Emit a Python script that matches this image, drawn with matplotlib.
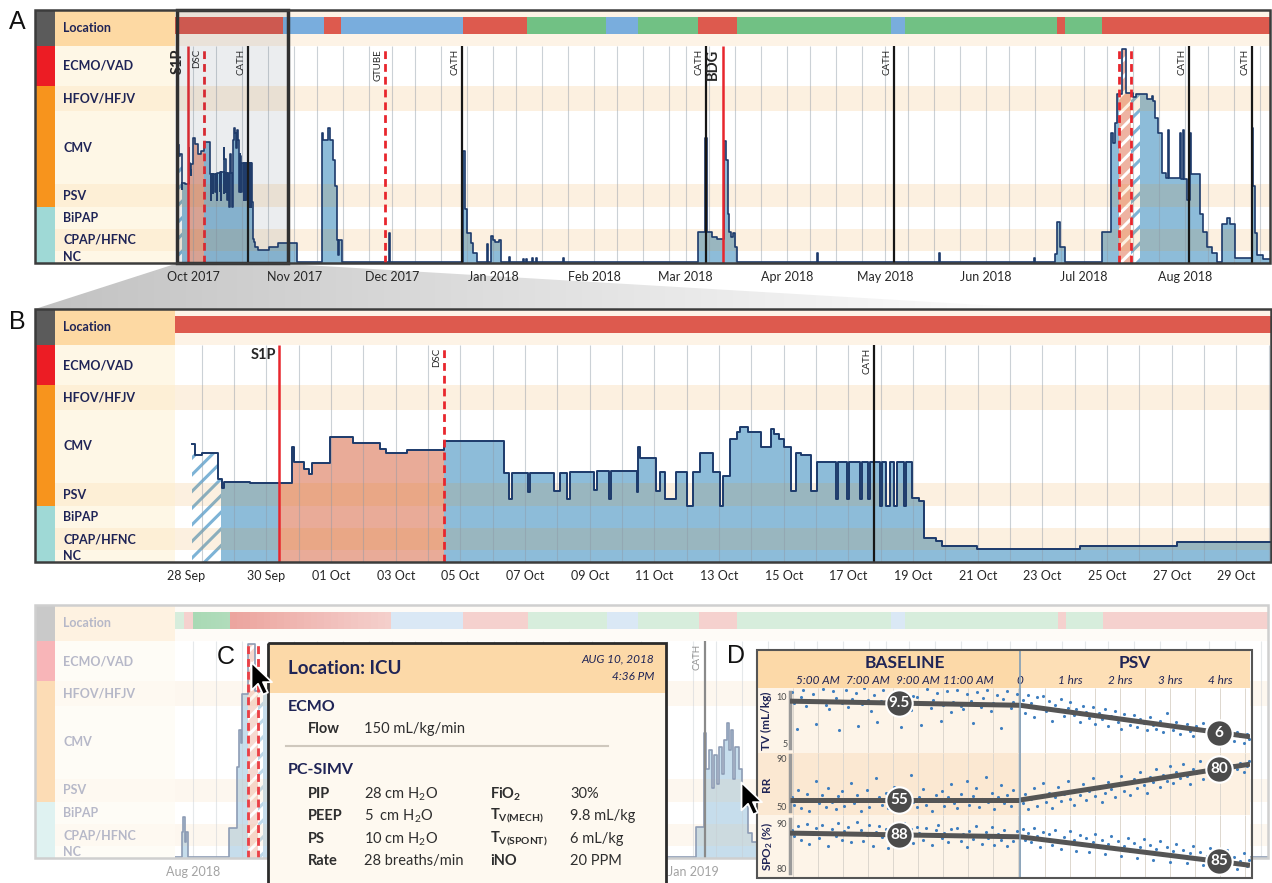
#!/usr/bin/env python3
import datetime as dt
import numpy as np
import matplotlib
matplotlib.use("Agg")
import matplotlib.pyplot as plt
import matplotlib.dates as mdates
from matplotlib.patches import Rectangle, Polygon
from matplotlib.lines import Line2D
from matplotlib.path import Path
from matplotlib.colors import LinearSegmentedColormap

W, H = 1272, 883
plt.rcParams['font.family'] = ['Lato', 'DejaVu Sans']
plt.rcParams['mathtext.fontset'] = 'custom'
plt.rcParams['mathtext.rm'] = 'Lato'
plt.rcParams['mathtext.it'] = 'Lato:italic'
plt.rcParams['mathtext.bf'] = 'Lato:bold'
plt.rcParams['hatch.linewidth'] = 2.2

NAVY = '#1f2456'
LINE = '#1c3a6b'
RED = '#e8262d'
LOC_COLORS = {'icu': '#dd5a4e', 'stepdown': '#79addd', 'home': '#71c184'}
PHASE_STYLE = {
    'blue': dict(color='#8dbcd9'),
    'salmon': dict(color='#e9ab98'),
    'hatch_blue': dict(facecolor='white', edgecolor='#7db3d6', hatch='//'),
    'hatch_salmon': dict(facecolor='#eeb3a2', edgecolor='white', hatch='//'),
}

# ---- respiratory support rows (bottom to top) ----
row_names = ['NC', 'CPAP/HFNC', 'BiPAP', 'PSV', 'CMV', 'HFOV/HFJV', 'ECMO/VAD', 'Location']
row_score_edges = [0, 1, 2, 3, 4, 7, 8, 10, 12]
row_px_edges = [0, 12, 34, 56, 79, 152, 177, 217, 253]

# ---- panel B: first month after admission (days after 1 Oct 2017, support level) ----
a_base = dt.datetime(2017, 10, 1)
b_span = (-4.83, 29.1)
b_steps = [
    (-4.3, 5.6), (-4.2, 5.15), (-4.0, 5.23), (-3.5, 4.16), (-3.37, 3.8), (-3.3, 4.04), (-2.5, 4.0),
    (-1.2, 5.5), (-1.15, 4.86), (-0.83, 4.57), (-0.67, 4.37), (-0.58, 4.82), (-0.03, 5.9), (0.68, 5.64),
    (1.5, 5.4), (1.7, 5.23), (2.35, 5.35), (3.5, 5.73), (5.35, 4.4), (5.5, 3.3), (5.6, 4.4), (6.1, 3.6),
    (6.15, 4.4), (6.9, 3.67), (7.09, 4.4), (7.3, 3.3), (7.38, 4.45), (8.14, 3.7), (8.23, 4.5), (8.6, 3.3),
    (8.66, 4.5), (9.47, 3.6), (9.5, 5.5), (9.56, 5.03), (10.06, 3.67), (10.18, 4.45), (10.33, 3.3),
    (10.67, 4.45), (11.01, 3.0), (11.2, 4.45), (11.42, 5.25), (11.8, 4.45), (12.04, 3.0), (12.13, 4.3),
    (12.34, 5.8), (12.56, 6.1), (12.65, 6.3), (12.9, 6.1), (13.3, 5.5), (13.6, 6.2), (13.7, 6.0),
    (13.86, 5.8), (14.0, 5.5), (14.23, 3.67), (14.38, 5.25), (14.54, 5.15), (14.85, 3.67), (15.03, 4.86),
    (15.62, 3.3), (15.68, 4.86), (15.97, 3.3), (16.03, 4.86), (16.37, 3.3), (16.42, 4.86), (16.6, 3.3),
    (16.66, 4.86), (16.98, 3.0), (17.04, 4.86), (17.17, 3.0), (17.27, 4.86), (17.42, 3.0), (17.5, 4.86),
    (17.73, 3.0), (17.79, 4.86), (17.98, 3.35), (18.17, 3.2), (18.35, 1.55), (18.72, 1.4), (18.9, 1.18),
    (19.99, 1.05), (23.17, 1.18), (26.15, 1.36),
]
b_phases = [(-4.3, -3.4, 'hatch_blue'), (-3.4, -1.6, 'blue'), (-1.6, 3.5, 'salmon'), (3.5, 29.1, 'blue')]
b_events = [(-1.6, 'S1P', 'major'), (3.5, 'DSC', 'minor'), (16.8, 'CATH', 'cath')]
b_loc = [(-4.83, 'icu')]
b_tick_days = [-4.5, -2.0, 0, 2, 4, 6, 8, 10, 12, 14, 16, 18, 20, 22, 24, 26, 28]
b_tick_labels = ['28 Sep', '30 Sep', '01 Oct', '03 Oct', '05 Oct', '07 Oct', '09 Oct', '11 Oct', '13 Oct',
                 '15 Oct', '17 Oct', '19 Oct', '21 Oct', '23 Oct', '25 Oct', '27 Oct', '29 Oct']

# ---- panel A: whole stay ----
a_span = (-5.5, 330)
a_steps_late = [
    (31.8, 0.08), (39.5, 6.1), (39.7, 5.8), (41.4, 6.3), (42.0, 5.8), (43.0, 5.0), (43.5, 3.9), (44.0, 1.5),
    (44.3, 0.67), (44.8, 1.5), (45.6, 0.08), (60.1, 1.8), (60.4, 0.08), (82.7, 5.36), (83.4, 2.9), (84.0, 1.8),
    (85.2, 1.36), (85.8, 0.8), (87.0, 0.08), (90.1, 1.3), (90.5, 0.08), (91.3, 1.7), (92.0, 1.5), (92.6, 1.4),
    (93.8, 1.5), (94.3, 0.08), (96.8, 0.5), (97.1, 0.08), (101.0, 0.35), (101.3, 0.08), (101.9, 0.35),
    (102.2, 0.08), (104.0, 0.4), (104.3, 0.08), (105.0, 0.4), (105.3, 0.08), (113.4, 0.4), (113.7, 0.08),
    (154.8, 1.85), (157.0, 5.9), (157.4, 1.85), (159.0, 1.65), (160.6, 1.55), (162.7, 5.77), (163.2, 5.0),
    (163.8, 2.7), (164.3, 1.85), (165.0, 1.65), (165.5, 1.8), (166.0, 1.2), (166.7, 0.08), (191.2, 0.8),
    (191.5, 0.08), (228.6, 0.8), (228.9, 0.08), (257.7, 0.4), (258.0, 0.08), (264.2, 0.75), (264.8, 2.3),
    (265.7, 1.2), (267.2, 0.08), (278.6, 1.85), (281.3, 6.1), (282.0, 5.7), (282.6, 6.5), (283.2, 7.7),
    (284.7, 9.85), (286.0, 7.72), (288.0, 7.55), (289.0, 7.7), (292.4, 7.5), (293.9, 7.6), (294.3, 7.4),
    (294.8, 6.7), (295.7, 6.1), (297.0, 4.45), (298.0, 4.25), (298.9, 6.2), (299.2, 4.25), (302.5, 6.1),
    (302.8, 4.2), (303.4, 6.2), (303.7, 4.2), (304.6, 3.3), (305.5, 6.1), (305.9, 4.4), (308.6, 2.7),
    (309.5, 1.85), (310.8, 1.2), (312.3, 0.8), (313.8, 0.08), (315.3, 2.25), (316.9, 2.5), (317.8, 2.25),
    (319.3, 0.42), (324.5, 6.3), (324.8, 3.9), (325.3, 1.8), (326.0, 0.7), (328.0, 0.3),
]
a_steps = b_steps + a_steps_late
a_phases = b_phases[:3] + [(3.5, 283.8, 'blue'), (283.8, 287.5, 'hatch_salmon'),
                           (287.5, 290.2, 'hatch_blue'), (290.2, 330, 'blue')]
a_events = [(-1.6, 'S1P', 'major'), (3.5, 'DSC', 'minor'), (16.8, 'CATH', 'cath'), (58.8, 'GTUBE', 'minor'),
            (82.4, 'CATH', 'cath'), (157.2, 'CATH', 'cath'), (162.4, 'BDG', 'major'), (214.8, 'CATH', 'cath'),
            (283.8, '', 'minor'), (287.5, '', 'minor'), (305.2, 'CATH', 'cath'), (324.5, 'CATH', 'cath')]
a_loc = [(-5.5, 'icu'), (27.6, 'stepdown'), (40.1, 'icu'), (45.4, 'stepdown'), (82.7, 'icu'), (102.4, 'home'),
         (126.6, 'stepdown'), (136.4, 'home'), (154.8, 'icu'), (166.7, 'home'), (213.9, 'stepdown'),
         (218.2, 'home'), (264.8, 'icu'), (267.2, 'home'), (278.6, 'icu')]

# ---- panel C: later view (days after 1 Aug 2018) ----
c_base = dt.datetime(2018, 8, 1)
c_span = (-5.5, 329)
c_steps = [(-5.5, 0.08), (-3.4, 1.64), (-2.9, 2.3), (-2.5, 1.2), (-2.1, 1.64), (-1.5, 0.08), (11.0, 1.8),
           (13.5, 4.5), (14.1, 6.0), (14.6, 5.5), (15.0, 7.5), (16.9, 9.85), (19.0, 7.6), (24.0, 0.08),
           (153.8, 1.85), (156.3, 5.9), (157.0, 4.4), (158.0, 5.2), (158.8, 3.6), (159.5, 5.0), (160.3, 3.8),
           (161.0, 5.3), (161.8, 4.2), (162.5, 5.6), (163.3, 6.3), (164.0, 5.2), (164.6, 6.0), (165.3, 4.0),
           (166.0, 5.3), (167.0, 4.4), (168.0, 3.6), (169.0, 2.8), (170.0, 1.6), (171.0, 1.2), (175.0, 0.08)]
c_phases = [(-5.5, 16.9, 'blue'), (16.9, 19.9, 'hatch_salmon'), (19.9, 21.5, 'hatch_blue'), (21.5, 329, 'blue')]
c_events = [(16.9, '', 'minor'), (19.9, '', 'minor'), (156.6, 'CATH', 'cath')]
c_loc = [(-5.5, 'home'), (-2.8, 'icu'), (0, 'home'), (11.3, 'icu'), (60.7, 'stepdown'), (82.7, 'icu'),
         (102.4, 'home'), (126.6, 'stepdown'), (136.1, 'home'), (154.8, 'icu'), (166.4, 'home'),
         (213.6, 'stepdown'), (217.9, 'home'), (264.8, 'icu'), (267.2, 'home'), (278.6, 'icu')]
c_focus = (0, 60.7)           # stretch of the location bar highlighted around the hovered point
c_tick_months = [dt.datetime(2018, 8, 1), dt.datetime(2019, 1, 1)]
c_hover = [(17.8, 8.95), (167.6, 3.87)]

# ---- tooltip ----
tip_title = 'Location: ICU'
tip_when = ['AUG 10, 2018', '4:36 PM']
tip_left = ['PIP', 'PEEP', 'PS', 'Rate']
tip_left_vals = ['28 cm H$_2$O', '5  cm H$_2$O', '10 cm H$_2$O', '28 breaths/min']
tip_right = [r'FiO$_\mathbf{2}$', r'T$_{\mathbf{V(MECH)}}$', r'T$_{\mathbf{V(SPONT)}}$', 'iNO']
tip_right_vals = ['30%', '9.8 mL/kg', '6 mL/kg', '20 PPM']

# ---- panel D: baseline (clock hours) vs PSV trial (hours) ----
d_base_ticks = [5, 7, 9, 11]
d_base_ticklabels = ['5:00 AM', '7:00 AM', '9:00 AM', '11:00 AM']
d_psv_ticks = [0, 1, 2, 3, 4]
d_psv_ticklabels = ['0', '1 hrs', '2 hrs', '3 hrs', '4 hrs']
tv_base = [(3.95, 10.4), (4.05, 9.3), (4.15, 6.6), (4.3, 9.9), (4.4, 10.6), (4.5, 9.0), (4.65, 9.6), (4.8, 10.2),
           (4.9, 7.1), (5.05, 9.4), (5.2, 10.7), (5.3, 9.1), (5.45, 8.6), (5.6, 10.5), (5.7, 9.8), (5.85, 6.4),
           (5.95, 9.3), (6.1, 10.6), (6.2, 8.9), (6.35, 9.7), (6.5, 10.3), (6.6, 6.9), (6.75, 9.2), (6.85, 10.8),
           (7.0, 9.6), (7.1, 8.4), (7.25, 10.1), (7.35, 7.3), (7.5, 9.5), (7.6, 10.6), (7.75, 9.0), (7.9, 8.7),
           (8.0, 10.2), (8.15, 9.7), (8.3, 6.8), (8.4, 10.4), (8.55, 9.3), (8.7, 8.5), (8.8, 10.0), (8.95, 9.9),
           (9.1, 7.0), (9.2, 9.2), (9.35, 10.7), (9.5, 8.8), (9.6, 9.6), (9.75, 10.3), (9.9, 7.4), (10.0, 9.1),
           (10.15, 10.5), (10.3, 8.3), (10.4, 9.4), (10.55, 10.6), (10.7, 9.0), (10.8, 8.6), (10.95, 10.2),
           (11.1, 9.5), (11.2, 7.2), (11.35, 10.4), (11.5, 8.9), (11.6, 9.8), (11.75, 10.6), (11.9, 8.4),
           (12.0, 9.3), (12.15, 10.1), (12.3, 6.7), (12.4, 9.7), (12.55, 10.5), (12.7, 8.8), (12.8, 9.4),
           (12.95, 10.2)]
tv_psv = [(0.05, 9.6), (0.1, 8.2), (0.15, 10.1), (0.22, 9.3), (0.28, 7.8), (0.33, 9.9), (0.4, 8.9), (0.45, 10.0),
          (0.52, 8.4), (0.58, 9.5), (0.63, 7.4), (0.7, 9.1), (0.76, 8.6), (0.82, 9.7), (0.88, 7.9), (0.95, 8.8),
          (1.0, 9.4), (1.07, 8.0), (1.12, 8.7), (1.2, 7.3), (1.25, 9.0), (1.32, 8.3), (1.38, 7.7), (1.45, 8.9),
          (1.5, 7.1), (1.57, 8.2), (1.63, 7.6), (1.7, 8.6), (1.76, 6.9), (1.82, 7.9), (1.9, 8.4), (1.95, 7.3),
          (2.02, 6.6), (2.08, 8.1), (2.15, 7.5), (2.2, 7.0), (2.28, 8.0), (2.33, 6.8), (2.4, 7.6), (2.47, 7.2),
          (2.53, 6.4), (2.6, 7.8), (2.66, 7.0), (2.72, 6.6), (2.8, 7.4), (2.86, 6.2), (2.93, 8.2), (3.0, 6.9),
          (3.05, 6.5), (3.12, 7.3), (3.2, 6.0), (3.26, 6.8), (3.33, 7.1), (3.4, 6.3), (3.46, 5.8), (3.52, 6.9),
          (3.6, 6.5), (3.66, 7.2), (3.73, 5.9), (3.8, 6.6), (3.86, 6.1), (3.93, 5.5), (4.0, 6.8), (4.07, 6.0),
          (4.13, 5.6), (4.2, 6.4), (4.27, 5.3), (4.33, 6.2), (4.4, 5.8), (4.47, 5.1), (4.53, 6.0), (4.58, 5.5)]
rr_base = [(3.95, 58), (4.05, 52), (4.2, 64), (4.3, 49), (4.4, 55), (4.55, 61), (4.65, 47), (4.8, 57), (4.9, 72),
           (5.05, 53), (5.15, 60), (5.3, 50), (5.4, 66), (5.55, 54), (5.7, 48), (5.8, 59), (5.95, 63), (6.05, 51),
           (6.2, 56), (6.3, 70), (6.45, 53), (6.55, 60), (6.7, 47), (6.8, 57), (6.95, 64), (7.05, 50), (7.2, 55),
           (7.3, 74), (7.45, 58), (7.55, 52), (7.7, 62), (7.8, 49), (7.95, 56), (8.05, 67), (8.2, 53), (8.3, 59),
           (8.45, 48), (8.55, 61), (8.7, 77), (8.8, 54), (8.95, 50), (9.05, 58), (9.2, 65), (9.3, 52), (9.45, 57),
           (9.55, 47), (9.7, 60), (9.8, 55), (9.95, 63), (10.05, 51), (10.2, 58), (10.3, 69), (10.45, 53),
           (10.55, 49), (10.7, 61), (10.8, 56), (10.95, 72), (11.05, 52), (11.2, 59), (11.3, 66), (11.45, 50),
           (11.55, 57), (11.7, 75), (11.8, 54), (11.95, 62), (12.05, 48), (12.2, 58), (12.3, 68), (12.45, 53),
           (12.55, 60), (12.7, 51), (12.8, 64), (12.95, 56)]
rr_psv = [(0.05, 53), (0.1, 61), (0.15, 48), (0.22, 57), (0.28, 66), (0.33, 51), (0.4, 59), (0.45, 70), (0.52, 54),
          (0.58, 62), (0.63, 49), (0.7, 58), (0.76, 67), (0.82, 55), (0.88, 61), (0.95, 72), (1.0, 57), (1.07, 52),
          (1.12, 64), (1.2, 60), (1.25, 69), (1.32, 56), (1.38, 63), (1.45, 74), (1.5, 59), (1.57, 66), (1.63, 54),
          (1.7, 62), (1.76, 71), (1.82, 65), (1.9, 58), (1.95, 68), (2.02, 76), (2.08, 63), (2.15, 70), (2.2, 60),
          (2.28, 73), (2.33, 66), (2.4, 79), (2.47, 68), (2.53, 62), (2.6, 75), (2.66, 71), (2.72, 82), (2.8, 67),
          (2.86, 77), (2.93, 72), (3.0, 84), (3.05, 70), (3.12, 79), (3.2, 74), (3.26, 86), (3.33, 76), (3.4, 69),
          (3.46, 82), (3.52, 78), (3.6, 88), (3.66, 73), (3.73, 83), (3.8, 79), (3.86, 86), (3.93, 75), (4.0, 84),
          (4.07, 80), (4.13, 89), (4.2, 77), (4.27, 85), (4.33, 82), (4.4, 87), (4.47, 79), (4.53, 84), (4.58, 88)]
spo2_base = [(3.95, 88.4), (4.05, 87.1), (4.2, 89.3), (4.3, 86.2), (4.4, 88.0), (4.55, 89.8), (4.65, 85.4),
             (4.8, 87.6), (4.9, 88.9), (5.05, 86.8), (5.15, 89.5), (5.3, 87.9), (5.4, 84.9), (5.55, 88.6),
             (5.7, 87.2), (5.8, 89.9), (5.95, 86.4), (6.05, 88.2), (6.2, 89.1), (6.3, 85.8), (6.45, 87.7),
             (6.55, 90.2), (6.7, 88.5), (6.8, 86.0), (6.95, 87.4), (7.05, 89.6), (7.2, 85.1), (7.3, 88.1),
             (7.45, 89.3), (7.55, 86.9), (7.7, 88.8), (7.8, 84.6), (7.95, 87.5), (8.05, 89.7), (8.2, 86.5),
             (8.3, 88.3), (8.45, 90.0), (8.55, 87.0), (8.7, 88.7), (8.8, 85.6), (8.95, 89.2), (9.05, 87.8),
             (9.2, 86.3), (9.3, 88.9), (9.45, 87.3), (9.55, 85.2), (9.7, 88.4), (9.8, 89.5), (9.95, 86.7),
             (10.05, 87.9), (10.2, 85.9), (10.3, 88.6), (10.45, 87.1), (10.55, 89.0), (10.7, 86.1), (10.8, 87.7),
             (10.95, 84.8), (11.05, 88.2), (11.2, 86.6), (11.3, 89.4), (11.45, 87.4), (11.55, 85.5), (11.7, 88.0),
             (11.8, 86.8), (11.95, 89.1), (12.05, 85.3), (12.2, 87.6), (12.3, 86.4), (12.45, 88.5), (12.55, 85.0),
             (12.7, 87.2), (12.8, 86.0), (12.95, 88.3)]
spo2_psv = [(0.05, 88.6), (0.1, 86.4), (0.15, 87.8), (0.22, 85.9), (0.28, 88.9), (0.33, 87.2), (0.4, 84.8),
            (0.45, 88.1), (0.52, 86.6), (0.58, 87.5), (0.63, 85.3), (0.7, 88.4), (0.76, 86.1), (0.82, 84.4),
            (0.88, 87.0), (0.95, 85.7), (1.0, 88.2), (1.07, 86.4), (1.12, 84.0), (1.2, 87.3), (1.25, 85.4),
            (1.32, 86.8), (1.38, 83.6), (1.45, 85.9), (1.5, 87.6), (1.57, 84.9), (1.63, 86.2), (1.7, 83.2),
            (1.76, 85.5), (1.82, 87.1), (1.9, 84.3), (1.95, 86.0), (2.02, 82.9), (2.08, 85.1), (2.15, 86.8),
            (2.2, 84.0), (2.28, 85.6), (2.33, 82.4), (2.4, 84.7), (2.47, 86.5), (2.53, 83.6), (2.6, 85.2),
            (2.66, 81.9), (2.72, 84.3), (2.8, 86.1), (2.86, 83.1), (2.93, 84.8), (3.0, 81.6), (3.05, 83.9),
            (3.12, 85.5), (3.2, 82.7), (3.26, 84.2), (3.33, 81.2), (3.4, 83.4), (3.46, 85.0), (3.52, 82.1),
            (3.6, 83.7), (3.66, 80.8), (3.73, 82.9), (3.8, 84.6), (3.86, 81.5), (3.93, 83.2), (4.0, 80.4),
            (4.07, 82.4), (4.13, 84.1), (4.2, 81.0), (4.27, 82.7), (4.33, 79.9), (4.4, 81.8), (4.47, 83.5),
            (4.53, 80.6), (4.58, 82.0)]
tv_trend = ([(3.88, 9.47), (13.08, 9.04)], [(0.0, 9.04), (4.6, 5.74)])
rr_trend = ([(3.88, 55.8), (13.08, 55.8)], [(0.0, 55.8), (4.6, 85.7)])
spo2_trend = ([(3.88, 87.8), (13.08, 87.0)], [(0.0, 87.0), (4.6, 80.8)])
d_marks = [('9.5', '6'), ('55', '80'), ('88', '85')]
d_mark_times = (8.25, 3.98)

fig = plt.figure(figsize=(W / 100, H / 100), dpi=100)


def px_axes(x0, y0, x1, y1, **kw):
    return fig.add_axes([x0 / W, 1 - y1 / H, (x1 - x0) / W, (y1 - y0) / H], **kw)


def to_px(s):
    return np.interp(s, row_score_edges, row_px_edges)


def to_score(p):
    return np.interp(p, row_px_edges, row_score_edges)


def support_axes(ax):
    ax.set_yscale('function', functions=(to_px, to_score))
    ax.set_ylim(0, 12)


def step_slice(days, levels, a, b):
    i0 = max(np.searchsorted(days, a, side='right') - 1, 0)
    inside = (days > a) & (days < b)
    last = levels[inside][-1] if inside.any() else levels[i0]
    xs = np.concatenate([[a], days[inside], [b]])
    ys = np.concatenate([[levels[i0]], levels[inside], [last]])
    return xs, ys


def week_grid(x0, span):
    loc = mdates.DayLocator(bymonthday=[1, 8, 16, 24])
    return loc.tick_values(mdates.num2date(x0 + span[0]), mdates.num2date(x0 + span[1]))


def draw_labels(top):
    ax = px_axes(35, top, 175, top + 253)
    support_axes(ax)
    ax.set_xlim(0, 140)
    ax.axis('off')
    for lo, hi, c in [(10, 12, '#5b5b5b'), (8, 10, '#ec1c24'), (3, 8, '#f7941d'), (0, 3, '#9fd9d6')]:
        ax.add_patch(Rectangle((0, lo), 20, hi - lo, color=c, lw=0))
    cells = ['#fef7e6', '#fdefd6'] * 3 + ['#fef7e6', '#fdd9a3']
    for i, name in enumerate(row_names):
        lo, hi = row_score_edges[i], row_score_edges[i + 1]
        ax.add_patch(Rectangle((20, lo), 120, hi - lo, color=cells[i], lw=0))
        mid = to_score((row_px_edges[i] + row_px_edges[i + 1]) / 2)
        ax.text(28, mid, name, color=NAVY, fontsize=9, fontweight='bold', va='center')
    return ax


def draw_support(top, right, base, span, steps, phases, events, locs, grid, line_w, flat_major=False):
    lab = draw_labels(top)
    ax = px_axes(175, top, right, top + 253)
    support_axes(ax)
    x0 = mdates.date2num(base)
    ax.set_xlim(x0 + span[0], x0 + span[1])
    for sp in ax.spines.values():
        sp.set_visible(False)
    ax.set_yticks([])
    ax.tick_params(axis='x', length=0, pad=6, labelsize=9, labelcolor='#262626')

    ax.axhspan(10, 12, color='#fdf3e6', lw=0, zorder=0)
    for i in (1, 3, 5):
        ax.axhspan(row_score_edges[i], row_score_edges[i + 1], color='#ef9114', alpha=0.13, lw=0, zorder=3)
    ax.vlines(grid, 0, 10, color='#8d99a6', alpha=0.45, lw=0.8, zorder=4)

    days = np.array([d for d, _ in steps] + [span[1]])
    lev = np.array([v for _, v in steps] + [steps[-1][1]])
    for a, b, kind in phases:
        xs, ys = step_slice(days, lev, a, b)
        ax.fill_between(x0 + xs, 0, ys, step='post', lw=0, zorder=2, **PHASE_STYLE[kind])
    ax.step(x0 + days, lev, where='post', color=LINE, lw=line_w, zorder=6)

    for d, label, kind in events:
        x = x0 + d
        if kind == 'cath':
            ax.vlines(x, 0, 10, color='#161616', lw=1.6, zorder=7)
        elif kind == 'major':
            ax.vlines(x, 0, 10, color=RED, lw=1.8, zorder=7)
        else:
            ax.vlines(x, 0, 10, color=RED, lw=2.0, linestyles=(0, (2.8, 1.8)), zorder=7)
        if label:
            bold = kind == 'major'
            ax.annotate(label, (x, 9.85), xytext=(-2, 0), textcoords='offset points',
                        rotation=0 if (bold and flat_major) else 90, ha='right', va='top',
                        fontsize=10.5 if bold else 7, fontweight='bold' if bold else 'normal',
                        color='#262626', zorder=8)

    ends = [d for d, _ in locs[1:]] + [span[1]]
    for (d, kind), e in zip(locs, ends):
        ax.add_patch(Rectangle((x0 + d, 10.65), e - d, 0.95, color=LOC_COLORS[kind], lw=0, zorder=2))
    return lab, ax, x0


def frame(top, right, color, lw, z):
    fig.add_artist(Rectangle((35 / W, 1 - (top + 253) / H), (right - 35) / W, 253 / H,
                             transform=fig.transFigure, fill=False, ec=color, lw=lw, zorder=z))


# ---- background: projection wedge from A's window to B ----
bg = fig.add_axes([0, 0, 1, 1], zorder=-5)
wedge = Polygon([(175, 264), (288, 264), (1050, 309), (35, 309)], closed=True, fc='none', ec='none')
bg.add_patch(wedge)
img = bg.imshow(np.linspace(0, 1, 256)[None, :], cmap=LinearSegmentedColormap.from_list('g', ['#c2c2c2', '#ffffff']),
                extent=(35, 1050, 309, 264), aspect='auto')
img.set_clip_path(wedge)
bg.set_xlim(0, W)
bg.set_ylim(H, 0)
bg.axis('off')

# ---- panel A ----
a_x0 = mdates.date2num(a_base)
labA, axA, _ = draw_support(10, 1270, a_base, a_span, a_steps, a_phases, a_events, a_loc,
                            week_grid(a_x0, a_span), 1.2)
axA.xaxis.set_major_locator(mdates.MonthLocator())
axA.xaxis.set_major_formatter(mdates.DateFormatter('%b %Y'))
axA.add_patch(Rectangle((a_x0 + b_span[0], 0), b_span[1] - b_span[0], 12, color='#44566a', alpha=0.1, lw=0, zorder=9))
axA.add_patch(Rectangle((a_x0 + b_span[0], 0), b_span[1] - b_span[0], 12, fill=False, ec='#303030', lw=2.5,
                        zorder=10, clip_on=False))
frame(10, 1270, '#3c3c3c', 1.8, 3)

# ---- panel B ----
b_grid = a_x0 + np.arange(-4, 30)
labB, axB, _ = draw_support(309, 1272, a_base, b_span, b_steps, b_phases, b_events, b_loc, b_grid, 1.4,
                            flat_major=True)
axB.set_xticks(a_x0 + np.array(b_tick_days))
axB.set_xticklabels(b_tick_labels)
frame(309, 1271, '#3c3c3c', 1.8, 3)

# ---- panel C (faded background view) ----
c_x0 = mdates.date2num(c_base)
labC, axC, _ = draw_support(605, 1268, c_base, c_span, c_steps, c_phases, c_events, c_loc,
                            week_grid(c_x0, c_span), 1.2)
axC.set_xticks(mdates.date2num(c_tick_months))
axC.xaxis.set_major_formatter(mdates.DateFormatter('%b %Y'))
axC.tick_params(axis='x', labelcolor='#a3a3a3')
labC.add_patch(Rectangle((0, 0), 1, 1, transform=labC.transAxes, color='white', alpha=0.68, lw=0, zorder=20))
axC.add_patch(Rectangle((0, 0), 1, 1, transform=axC.transAxes, color='white', alpha=0.5, lw=0, zorder=20))
axC.axhspan(10, 12, color='white', alpha=0.45, lw=0, zorder=21)
# highlight fading out from the hovered stay along the location bar
c_ends = [d for d, _ in c_loc[1:]] + [c_span[1]]
for (d, kind), e in zip(c_loc, c_ends):
    lo, hi = max(d, c_focus[0]), min(e, c_focus[1])
    if hi <= lo:
        continue
    for j in range(24):
        s0 = lo + (hi - lo) * j / 24
        fade = 1 - (s0 - c_focus[0]) / (c_focus[1] - c_focus[0])
        axC.add_patch(Rectangle((c_x0 + s0, 10.65), (hi - lo) / 24, 0.95, color=LOC_COLORS[kind],
                                alpha=0.45 * fade, lw=0, zorder=22))
for d, _, kind in c_events:
    if kind == 'minor':
        axC.vlines(c_x0 + d, 0, 10, color=RED, lw=2.0, alpha=0.75, linestyles=(0, (2.8, 1.8)), zorder=22)
frame(605, 1268, '#cfcfcf', 1.8, 1)

# ---- tooltip ----
tip = px_axes(268, 643, 666, 883, zorder=5)
tip.set_xlim(0, 398)
tip.set_ylim(240, 0)
tip.axis('off')
tip.add_patch(Rectangle((0, 0), 398, 250, color='#fef9f0', lw=0))
tip.add_patch(Rectangle((0, 0), 398, 50, color='#fcd9a8', lw=0))
tip.add_patch(Rectangle((0, 0), 398, 250, fill=False, ec='#2b2b2b', lw=2, clip_on=False))
tip.text(20, 25, tip_title, fontsize=13.5, fontweight='bold', color=NAVY, va='center')
tip.text(386, 16, tip_when[0], fontsize=8.5, style='italic', color=NAVY, ha='right', va='center')
tip.text(386, 33, tip_when[1], fontsize=8.5, style='italic', color=NAVY, ha='right', va='center')
tip.text(20, 64, 'ECMO', fontsize=11.5, fontweight='bold', color=NAVY, va='center')
tip.text(40, 86, 'Flow', fontsize=10.5, fontweight='bold', color='#2e2e2e', va='center')
tip.text(96, 86, '150 mL/kg/min', fontsize=10.5, color='#2e2e2e', va='center')
tip.plot([18, 340], [103, 103], color='#cfc8bd', lw=1.5)
tip.text(20, 127, 'PC-SIMV', fontsize=11.5, fontweight='bold', color=NAVY, va='center')
for i, y in enumerate([151, 173, 196, 218]):
    tip.text(40, y, tip_left[i], fontsize=10.5, fontweight='bold', color='#2e2e2e', va='center')
    tip.text(96, y, tip_left_vals[i], fontsize=10.5, color='#2e2e2e', va='center')
    tip.text(222, y, tip_right[i], fontsize=10.5, fontweight='bold', color='#2e2e2e', va='center')
    tip.text(302, y, tip_right_vals[i], fontsize=10.5, color='#2e2e2e', va='center')

# ---- panel D ----
d_rows = [('TV (mL/kg)', 688, 753, (4.04, 10.85), [5, 10], tv_base, tv_psv, tv_trend),
          ('RR', 753, 815, (43.3, 95.0), [50, 90], rr_base, rr_psv, rr_trend),
          (r'SPO$_\mathbf{2}$ (%)', 815, 878, (78.04, 91.74), [80, 90], spo2_base, spo2_psv, spo2_trend)]
d_bg = [('#fdf4e8', '#ffffff'), ('#fbe8d2', '#fdf1e2'), ('#fdf4e8', '#ffffff')]
d_spans = [(3.88, 13.08), (0.0, 4.6)]

hl = px_axes(757, 650, 790, 688, zorder=5)
hl.axis('off')
hl.add_patch(Rectangle((0, 0), 1, 1, transform=hl.transAxes, color='#fcd9a8', lw=0))
for k, (x0p, x1p, title, ticks, labels, hc) in enumerate([
        (790, 1020, 'BASELINE', d_base_ticks, d_base_ticklabels, '#fcd9a8'),
        (1020, 1250, 'PSV', d_psv_ticks, d_psv_ticklabels, '#fddfb6')]):
    hx = px_axes(x0p, 650, x1p, 688, zorder=5)
    hx.set_xlim(*d_spans[k])
    hx.set_ylim(0, 1)
    hx.axis('off')
    hx.add_patch(Rectangle((0, 0), 1, 1, transform=hx.transAxes, color=hc, lw=0))
    hx.text(np.mean(d_spans[k]), 0.66, title, ha='center', va='center', fontsize=12.5, fontweight='bold', color=NAVY)
    for t, s in zip(ticks, labels):
        hx.text(t, 0.2, s, ha='center', va='center', fontsize=8.5, style='italic', color=NAVY, clip_on=False)

for r, (name, y0, y1, ylim, ticks, base_pts, psv_pts, trend) in enumerate(d_rows):
    la = px_axes(757, y0, 790, y1, zorder=5)
    la.axis('off')
    la.add_patch(Rectangle((0, 0), 1, 1, transform=la.transAxes, color=d_bg[r][0], lw=0))
    la.text(0.3, 0.5, name, rotation=90, ha='center', va='center', fontsize=8.5, fontweight='bold',
            color=NAVY, transform=la.transAxes)
    for k, pts in enumerate([base_pts, psv_pts]):
        ax = px_axes(790 if k == 0 else 1020, y0, 1020 if k == 0 else 1250, y1, zorder=5)
        ax.set_facecolor(d_bg[r][k])
        ax.set_xlim(*d_spans[k])
        ax.set_ylim(*ylim)
        ax.set_xticks([])
        for sp in ax.spines.values():
            sp.set_visible(False)
        grid_step = 1.0 if k == 0 else 0.5
        ax.vlines(np.arange(np.ceil(d_spans[k][0]), d_spans[k][1], grid_step), *ylim, color='#ddd7ce', lw=0.7, zorder=1)
        if k == 0:
            ax.spines['left'].set_visible(True)
            ax.spines['left'].set_color('#9a9a9a')
            ax.spines['left'].set_linewidth(2.5)
            pad = 0.08 * (ticks[1] - ticks[0])
            ax.spines['left'].set_bounds(ticks[0] - pad, ticks[1] + pad)
            ax.set_yticks(ticks)
            ax.tick_params(axis='y', length=0, pad=2, labelsize=6.5, labelcolor='#4a4a4a')
        else:
            ax.set_yticks([])
        t, v = zip(*pts)
        ax.scatter(t, v, s=5, color='#3f7fc0', lw=0, zorder=2)
        tt, tv = zip(*trend[k])
        ax.plot(tt, tv, color='#555555', lw=3.6, solid_capstyle='butt', zorder=3)
        tm = d_mark_times[k]
        vm = np.interp(tm, tt, tv)
        ax.plot(tm, vm, 'o', ms=19, mfc='#4b4b4b', mec='white', mew=1.5, zorder=4, clip_on=False)
        ax.text(tm, vm, d_marks[r][k], color='white', fontweight='bold', fontsize=11, ha='center', va='center',
                zorder=5)

fig.add_artist(Line2D([1020 / W, 1020 / W], [1 - 650 / H, 1 - 878 / H], transform=fig.transFigure,
                      color='#7f9db8', lw=1.2, zorder=6))
fig.add_artist(Rectangle((757 / W, 1 - 878 / H), 495 / W, 228 / H, transform=fig.transFigure,
                         fill=False, ec='#555555', lw=1.5, zorder=6))

# ---- cursors over panel C ----
cursor_shape = Path([(0, 0), (0, -17), (4, -13), (7, -19.5), (10, -18.3), (7, -12), (12.5, -12), (0, 0)],
                    [Path.MOVETO] + [Path.LINETO] * 6 + [Path.CLOSEPOLY])
for d, lv in c_hover:
    fig.add_artist(Line2D([c_x0 + d], [lv], transform=axC.transData, marker=cursor_shape, ms=46,
                          mfc='black', mec='white', mew=1.3, ls='none', zorder=30))

# ---- panel letters ----
for letter, x, y in [('A', 17, 22), ('B', 17, 322), ('C', 226, 657), ('D', 736, 656)]:
    fig.text(x / W, 1 - y / H, letter, ha='center', va='center', fontsize=18, family='Liberation Sans',
             color='#111111', zorder=30)

fig.savefig('out.png', dpi=100)
